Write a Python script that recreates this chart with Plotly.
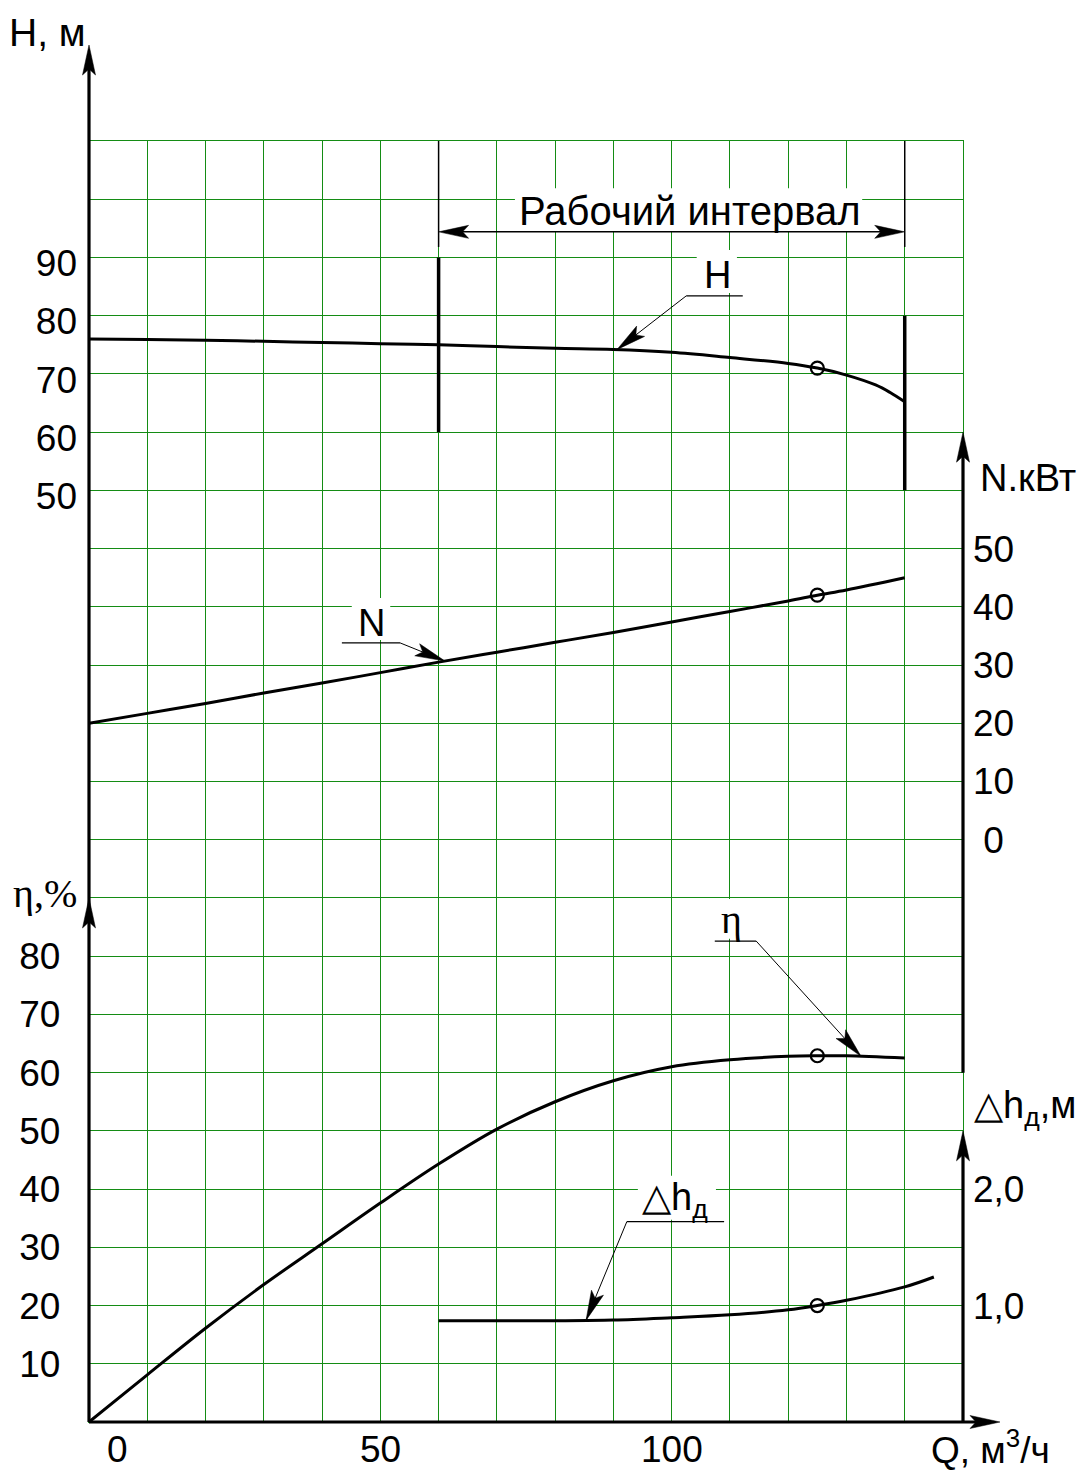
import math
import plotly.graph_objects as go

# ---------------- data ----------------
Q_H = [0, 10, 20, 30, 40, 50, 60, 70, 80, 90, 100, 110, 120, 125, 130, 135, 137.5, 140]
H_VALS = [76.0, 75.9, 75.8, 75.6, 75.4, 75.2, 75.0, 74.7, 74.4, 74.2, 73.7, 72.8, 71.8, 71.0, 69.8, 68.1, 66.8, 65.2]

Q_N = [0, 10, 20, 30, 40, 50, 60, 70, 80, 90, 100, 110, 120, 125, 130, 140]
N_VALS = [20.0, 21.7, 23.4, 25.2, 26.9, 28.7, 30.5, 32.2, 33.9, 35.6, 37.4, 39.2, 41.0, 42.0, 42.9, 45.0]

Q_ETA = [0, 10, 20, 30, 40, 50, 60, 70, 80, 90, 100, 110, 120, 125, 130, 140]
ETA_VALS = [0.0, 8.1, 16.1, 23.6, 30.6, 37.6, 44.3, 50.3, 55.0, 58.6, 61.0, 62.2, 62.8, 62.9, 62.9, 62.5]

Q_DH = [60, 70, 80, 90, 100, 110, 120, 125, 130, 140, 145]
DH_VALS = [0.87, 0.87, 0.87, 0.875, 0.895, 0.92, 0.963, 1.0, 1.045, 1.16, 1.245]

Q_NOMINAL = 125
Q_WORK = [60, 140]
WORK_H_SPANS = [(60, 90), (50, 80)]

H_TICKS = [90, 80, 70, 60, 50]
ETA_TICKS = [80, 70, 60, 50, 40, 30, 20, 10]
N_TICKS = [50, 40, 30, 20, 10, 0]
DH_TICKS = [2.0, 1.0]
DH_TICK_TEXT = ["2,0", "1,0"]
Q_TICKS = [0, 50, 100]

# ---------------- geometry ----------------
OFF = 8                      # page body margin
W, HGT = 1092 - 2 * OFF, 1479 - 2 * OFF
PLOT_X0, PLOT_X1 = 89, 963   # page pixels
PLOT_Y0, PLOT_Y1 = 141, 1422
ML = PLOT_X0 - OFF
MT = PLOT_Y0 - OFF
PW = PLOT_X1 - PLOT_X0
PH = PLOT_Y1 - PLOT_Y0
MR = W - ML - PW
MB = HGT - MT - PH

Q_RANGE = [0, 150]
ETA_RANGE = [0, 220]
H_RANGE = [-110, 110]
N_RANGE = [-100, 120]
DH_RANGE = [0, 11]
AXR = {'x': Q_RANGE, 'y': ETA_RANGE, 'y2': H_RANGE, 'y3': N_RANGE, 'y4': DH_RANGE}

SANS = "Liberation Sans, Arial, sans-serif"
SERIF = "Liberation Serif, Times New Roman, serif"
GRID = "rgb(20,140,20)"
AXW = 3.2


def sy(ref):
    r = AXR[ref]
    return PH / (r[1] - r[0])


def sxq():
    return PW / (Q_RANGE[1] - Q_RANGE[0])


def to_eta(v, ref):
    return ETA_RANGE[0] + (v - AXR[ref][0]) * sy(ref) / sy('y')


def pp(px, py):
    """page pixel -> paper"""
    return (px - PLOT_X0) / PW, (PLOT_Y1 - py) / PH


def interp(xs, ys, x):
    for i in range(len(xs) - 1):
        if xs[i] <= x <= xs[i + 1]:
            t = (x - xs[i]) / (xs[i + 1] - xs[i])
            return ys[i] + t * (ys[i + 1] - ys[i])
    return ys[-1]


def arrow_path(dx, dy, L=30, Wd=6.5, notch=6):
    n = math.hypot(dx, dy)
    ux, uy = dx / n, dy / n
    qx, qy = -uy, ux
    pts = [(0, 0),
           (-ux * L + qx * Wd, -uy * L + qy * Wd),
           (-ux * (L - notch), -uy * (L - notch)),
           (-ux * L - qx * Wd, -uy * L - qy * Wd)]
    return "M " + " L ".join(f"{x:.2f},{-y:.2f}" for x, y in pts) + " Z"


def arrow(xa, ya, dx, dy, xref='x', yref='y'):
    if yref not in ('y', 'paper'):
        ya = to_eta(ya, yref)
        yref = 'y'
    return dict(type='path', xref=xref, yref=yref, xsizemode='pixel', ysizemode='pixel',
                xanchor=xa, yanchor=ya, path=arrow_path(dx, dy), fillcolor='black',
                line=dict(color='black', width=0.5), layer='above')


def seg(x0, y0, x1, y1, xref='x', yref='y', w=3.0):
    if yref not in ('y', 'paper'):
        y0, y1 = to_eta(y0, yref), to_eta(y1, yref)
        yref = 'y'
    return dict(type='line', xref=xref, yref=yref, x0=x0, y0=y0, x1=x1, y1=y1,
                line=dict(color='black', width=w), layer='above')


def wbox(x0, y0, x1, y1, yref):
    return dict(type='rect', xref='x', yref='y', x0=x0, y0=to_eta(y0, yref), x1=x1,
                y1=to_eta(y1, yref), fillcolor='white', line=dict(width=0), layer='between')


fig = go.Figure()

line_style = dict(color='black', width=3, shape='spline', smoothing=1.0)
fig.add_trace(go.Scatter(x=Q_ETA, y=ETA_VALS, mode='lines', line=line_style, yaxis='y', hoverinfo='skip'))
fig.add_trace(go.Scatter(x=Q_H, y=H_VALS, mode='lines', line=line_style, yaxis='y2', hoverinfo='skip'))
fig.add_trace(go.Scatter(x=Q_N, y=N_VALS, mode='lines', line=line_style, yaxis='y3', hoverinfo='skip'))
fig.add_trace(go.Scatter(x=Q_DH, y=DH_VALS, mode='lines', line=line_style, yaxis='y4', hoverinfo='skip'))

mk = dict(symbol='circle-open', size=13, color='black', line=dict(width=2.2, color='black'))
for qs, vs, ax in [(Q_ETA, ETA_VALS, 'y'), (Q_H, H_VALS, 'y2'), (Q_N, N_VALS, 'y3'), (Q_DH, DH_VALS, 'y4')]:
    i = qs.index(Q_NOMINAL)
    fig.add_trace(go.Scatter(x=[qs[i]], y=[vs[i]], mode='markers', marker=mk, yaxis=ax, hoverinfo='skip'))

shapes = []
# white boxes behind labels
shapes += [
    wbox(73.1, 94.5, 132.7, 101.9, 'y2'),
    wbox(104.3, 83.9, 111.2, 91.3, 'y2'),
    wbox(45.1, 34.3, 51.7, 41.5, 'y3'),
    wbox(108.1, 83.0, 112.6, 89.8, 'y'),
    wbox(94.2, 1.736, 107.6, 2.114, 'y4'),
]

# axes lines + arrows
top_tip = pp(0, 45)[1]
shapes.append(seg(0, 0, 0, top_tip - 15 / PH, xref='paper', yref='paper', w=AXW))
shapes.append(arrow(0, top_tip, 0, -1, xref='paper', yref='paper'))
shapes.append(arrow(0, 90, 0, -1, xref='paper', yref='y'))
right_tip = pp(1000, 0)[0]
shapes.append(seg(0, 0, right_tip - 15 / PW, 0, xref='paper', yref='paper', w=AXW))
shapes.append(arrow(right_tip, 0, 1, 0, xref='paper', yref='paper'))
shapes.append(seg(1, 60, 1, 170 - 15 / sy('y'), xref='paper', w=AXW))
shapes.append(arrow(1, 170, 0, -1, xref='paper'))
shapes.append(seg(1, 0, 1, 50 - 15 / sy('y'), xref='paper', w=AXW))
shapes.append(arrow(1, 50, 0, -1, xref='paper'))

# working interval
arrow_h = 94.4
for q, (h0, h1) in zip(Q_WORK, WORK_H_SPANS):
    shapes.append(seg(q, h0, q, h1, yref='y2', w=3.5))
    shapes.append(seg(q, H_RANGE[1], q, 91.8, yref='y2', w=1.5))
shapes.append(seg(Q_WORK[0] + 1, arrow_h, Q_WORK[1] - 1, arrow_h, yref='y2', w=1.5))
shapes.append(arrow(Q_WORK[0], arrow_h, -1, 0, yref='y2'))
shapes.append(arrow(Q_WORK[1], arrow_h, 1, 0, yref='y2'))

# curve labels: underline, leader, arrowhead
leaders = [
    # yref, underline x0, x1, y, tail x, tip x, curve
    ('y2', 102.5, 112.2, 83.4, 102.5, 90.6, (Q_H, H_VALS)),
    ('y3', 43.4, 53.4, 33.8, 53.4, 61.1, (Q_N, N_VALS)),
    ('y', 107.4, 114.5, 82.6, 114.5, 132.5, (Q_ETA, ETA_VALS)),
    ('y4', 92.3, 109.0, 1.72, 92.3, 85.3, (Q_DH, DH_VALS)),
]
for yref, ux0, ux1, uy, tx, tipx, (cq, cv) in leaders:
    tipy = interp(cq, cv, tipx)
    shapes.append(seg(ux0, uy, ux1, uy, yref=yref, w=1.2))
    shapes.append(seg(tx, uy, tipx, tipy, yref=yref, w=1.0))
    dx = (tipx - tx) * sxq()
    dy = -(tipy - uy) * sy(yref)
    shapes.append(arrow(tipx, tipy, dx, dy, yref=yref))

annotations = []


def txt(text, x, y, size=38, family=SANS, xref='paper', yref='paper', yanchor='middle', **kw):
    annotations.append(dict(text=text, x=x, y=y, xref=xref, yref=yref, showarrow=False,
                            font=dict(size=size, family=family, color='black'),
                            xanchor='center', yanchor=yanchor, **kw))


# curve label texts
txt("H", 107.8, 87.0, xref='x', yref='y2')
txt("N", 48.4, 37.2, xref='x', yref='y3')
txt("η", 110.2, 86.3, family=SERIF, size=40, xref='x', yref='y')
txt("△h<sub>д</sub>", 100.6, 1.91, xref='x', yref='y4')
txt("Рабочий интервал", 103.2, 98.0, size=40, xref='x', yref='y2')

# axis titles
txt("H, м", pp(47, 0)[0], pp(0, OFF + 1)[1], size=39, yanchor='top')
txt("η,%", *pp(45, 893), size=40, family=SERIF)
txt("N.кВт", *pp(1028, 478))
txt("△h<sub>д</sub>,м", *pp(1025, 1108))
txt("Q, м<sup>3</sup>/ч", *pp(990, 1447), size=37)

# Q tick labels
for q in Q_TICKS:
    txt(str(q), q, pp(0, 1449)[1], size=37, xref='x', xshift=28 if q == 0 else 0)

tickfont = dict(size=37, family=SANS, color='black')
minor_grid = dict(tickmode='linear', tick0=0, dtick=10, showgrid=True, gridcolor=GRID, gridwidth=1.3, ticks='')

fig.update_layout(
    width=W, height=HGT,
    margin=dict(l=ML, r=MR, t=MT, b=MB, pad=0),
    plot_bgcolor='white', paper_bgcolor='white',
    showlegend=False,
    xaxis=dict(range=Q_RANGE, tickmode='linear', tick0=0, dtick=10, showticklabels=False,
               showgrid=True, gridcolor=GRID, gridwidth=1.3, zeroline=False,
               showline=True, mirror=True, linecolor=GRID, linewidth=1.3, ticks=''),
    yaxis=dict(range=ETA_RANGE, tickmode='array', tickvals=ETA_TICKS, ticktext=[str(v) for v in ETA_TICKS],
               showgrid=True, gridcolor=GRID, gridwidth=1.3, zeroline=False,
               minor=minor_grid,
               showline=True, mirror=True, linecolor=GRID, linewidth=1.3,
               ticks='', tickfont=tickfont, ticklabelstandoff=20),
    yaxis2=dict(range=H_RANGE, overlaying='y', anchor='x', side='left',
                tickmode='array', tickvals=[h - 1 for h in H_TICKS], ticktext=[str(h) for h in H_TICKS],
                showgrid=False, zeroline=False, showline=False, ticks='', tickfont=tickfont,
                ticklabelstandoff=11),
    yaxis3=dict(range=N_RANGE, overlaying='y', anchor='x', side='right',
                tickmode='array', tickvals=N_TICKS,
                ticktext=[("\u00a0" + str(n)) if n < 10 else str(n) for n in N_TICKS],
                showgrid=False, zeroline=False, showline=False, ticks='', tickfont=tickfont,
                ticklabelstandoff=9),
    yaxis4=dict(range=DH_RANGE, overlaying='y', anchor='x', side='right',
                tickmode='array', tickvals=DH_TICKS, ticktext=DH_TICK_TEXT,
                showgrid=False, zeroline=False, showline=False, ticks='', tickfont=tickfont,
                ticklabelstandoff=9),
    shapes=shapes,
    annotations=annotations,
)

fig.write_html("out.html")
